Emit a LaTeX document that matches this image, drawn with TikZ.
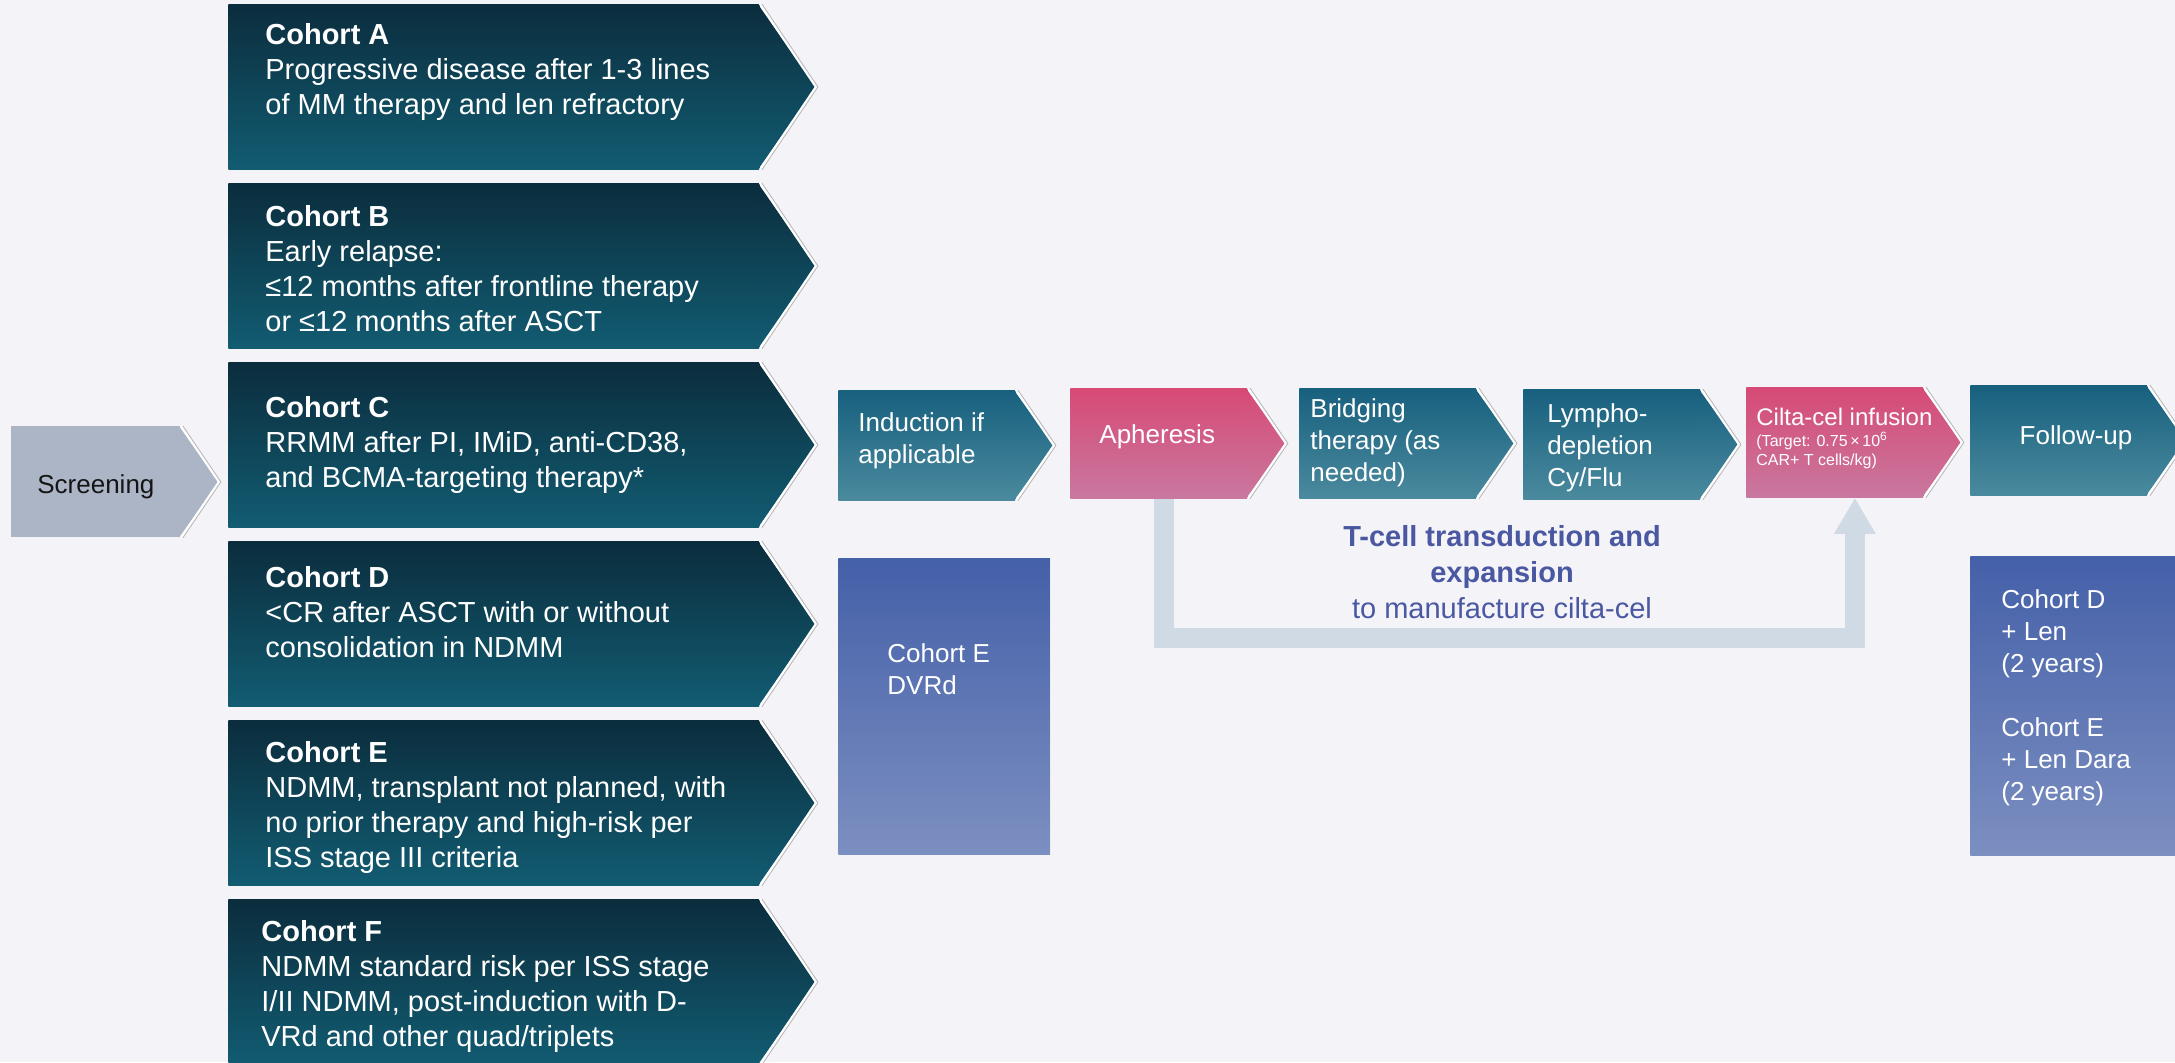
\documentclass[tikz,border=0pt]{standalone}
\usepackage{fontspec}
\setmainfont{Liberation Sans}
\usetikzlibrary{arrows.meta}

\definecolor{bgcol}{HTML}{F3F3F8}
\definecolor{cohtop}{HTML}{0B2D3D}
\definecolor{cohbot}{HTML}{125C72}
\definecolor{tealtop}{HTML}{17607E}
\definecolor{tealbot}{HTML}{4B8A9E}
\definecolor{pinktop}{HTML}{D64A75}
\definecolor{pinkbot}{HTML}{C978A0}
\definecolor{bluetop}{HTML}{4460A8}
\definecolor{bluebot}{HTML}{7C8FC1}
\definecolor{screencol}{HTML}{ABB5C5}
\definecolor{scrtext}{HTML}{151515}
\definecolor{bandcol}{HTML}{D0DAE4}
\definecolor{mfgcol}{HTML}{4A58A2}

\newcommand\cohfont{\fontsize{14.5}{17.5}\selectfont}
\newcommand\stepfont{\fontsize{13}{16}\selectfont}
\newcommand\infusefont{\fontsize{12}{14}\selectfont}
\newcommand\dosefont{\fontsize{8}{9.75}\selectfont}
\newcommand\mfgfont{\fontsize{14.5}{18}\selectfont}

% pointed end of a box: node, depth, top colour, bottom colour
\newcommand\tipof[4]{%
  \shade[top color=#3,bottom color=#4] ([xshift=-1pt]#1.north east) -- ([xshift=#2]#1.east) -- ([xshift=-1pt]#1.south east) -- cycle;
  \draw[gray!55,line width=0.5pt] ([xshift=1pt]#1.north east) -- ([xshift=#2+1pt]#1.east) -- ([xshift=1pt]#1.south east);
  \draw[white,line width=1pt] (#1.north east) -- ([xshift=#2]#1.east) -- (#1.south east);
}

\begin{document}
\begin{tikzpicture}[x=0.5pt,y=-0.5pt,
  cohort/.style={rectangle,anchor=north west,inner sep=0pt,minimum width=265.5pt,minimum height=82.5pt,top color=cohtop,bottom color=cohbot},
  procbox/.style={rectangle,anchor=north west,inner sep=0pt,minimum width=88.5pt,minimum height=55pt},
  tealfill/.style={top color=tealtop,bottom color=tealbot},
  pinkfill/.style={top color=pinktop,bottom color=pinkbot},
  armbox/.style={rectangle,anchor=north west,inner sep=0pt,top color=bluetop,bottom color=bluebot},
  ctext/.style={anchor=north west,inner sep=0pt,align=left,text=white,font=\cohfont},
  ptext/.style={anchor=north west,inner sep=0pt,align=left,text=white,font=\stepfont},
  band/.style={draw=bandcol,line width=10pt,line join=miter,-{Triangle[width=19.5pt,length=18pt]}}]

\clip (0,0) rectangle (2175,1062);
\fill[bgcol] (0,0) rectangle (2175,1062);

% screening
\node[procbox,minimum width=84.5pt,minimum height=55.5pt,fill=screencol,text=scrtext,font=\stepfont,text height=11.5pt,text depth=0pt] (scr) at (11,426) {Screening};
\tipof{scr}{19pt}{screencol}{screencol}

% cohorts
\node[cohort] (cohA) at (228,4) {};
\tipof{cohA}{28pt}{cohtop}{cohbot}
\node[cohort] (cohB) at (228,183) {};
\tipof{cohB}{28pt}{cohtop}{cohbot}
\node[cohort] (cohC) at (228,362) {};
\tipof{cohC}{28pt}{cohtop}{cohbot}
\node[cohort] (cohD) at (228,541) {};
\tipof{cohD}{28pt}{cohtop}{cohbot}
\node[cohort] (cohE) at (228,720) {};
\tipof{cohE}{28pt}{cohtop}{cohbot}
\node[cohort] (cohF) at (228,899) {};
\tipof{cohF}{28pt}{cohtop}{cohbot}

\node[ctext] (txtA) at (265,23) {\textbf{Cohort A}\\Progressive disease after 1-3 lines\\of MM therapy and len refractory};
\node[ctext] (txtB) at (265,205) {\textbf{Cohort B}\\Early relapse:\\≤12 months after frontline therapy\\or ≤12 months after ASCT};
\node[ctext] (txtC) at (265,396) {\textbf{Cohort C}\\RRMM after PI, IMiD, anti-CD38,\\and BCMA-targeting therapy*};
\node[ctext] (txtD) at (265,566) {\textbf{Cohort D}\\<CR after ASCT with or without\\consolidation in NDMM};
\node[ctext] (txtE) at (265,741) {\textbf{Cohort E}\\NDMM, transplant not planned, with\\no prior therapy and high-risk per\\ISS stage III criteria};
\node[ctext] (txtF) at (261,920) {\textbf{Cohort F}\\NDMM standard risk per ISS stage\\I/II NDMM, post-induction with D-\\VRd and other quad/triplets};

% treatment steps
\node[procbox,tealfill] (ind) at (838,390) {};
\tipof{ind}{19pt}{tealtop}{tealbot}
\node[procbox,pinkfill] (aph) at (1070,388) {};
\tipof{aph}{19pt}{pinktop}{pinkbot}
\node[procbox,tealfill] (brg) at (1299,388) {};
\tipof{brg}{19pt}{tealtop}{tealbot}
\node[procbox,tealfill] (lym) at (1523,389) {};
\tipof{lym}{19pt}{tealtop}{tealbot}
\node[procbox,pinkfill] (cil) at (1746,387) {};
\tipof{cil}{19pt}{pinktop}{pinkbot}
\node[procbox,tealfill] (fup) at (1970,385) {};
\tipof{fup}{19pt}{tealtop}{tealbot}

\node[ptext] (tInd) at (858,412) {Induction if\\applicable};
\node[ptext] (tAph) at (1099,424) {Apheresis};
\node[ptext] (tBrg) at (1310,398) {Bridging\\therapy (as\\needed)};
\node[ptext] (tLym) at (1547,403) {Lympho-\\depletion\\Cy/Flu};
\node[ptext,font=\infusefont] (tCil) at (1756,408) {Cilta-cel infusion};
\node[ptext,font=\dosefont] (tDose) at (1756,432) {(Target: 0.75\,×\,10\textsuperscript{6}\\CAR+ T cells/kg)};
\node[ptext,anchor=base] (tFup) at (2076,444) {Follow-up};

% manufacturing loop
\coordinate (turn) at (1163,638);
\coordinate (bandin) at ([xshift=10pt]cil.south);
\draw[band] ([xshift=2.5pt]aph.south) |- (bandin |- turn) -- (bandin);
\node[font=\mfgfont,text=mfgcol,align=center,anchor=north,inner sep=0pt] (mfg) at (1502,525) {\textbf{T-cell transduction and}\\\textbf{expansion}\\to manufacture cilta-cel};

% arms
\node[armbox,minimum width=106pt,minimum height=148pt] (armE) at (838,558) {};
\draw[white!85!gray,line width=0.6pt] (armE.north east) -- (armE.south east);
\node[ptext] (tArmE) at (887,643) {Cohort E\\DVRd};
\node[armbox,minimum width=107.5pt,minimum height=149.5pt] (armDE) at (1970,556) {};
\node[ptext] (tArmDE) at (2001,589) {Cohort D\\+ Len\\(2 years)\\[16pt]Cohort E\\+ Len Dara\\(2 years)};
\end{tikzpicture}
\end{document}
